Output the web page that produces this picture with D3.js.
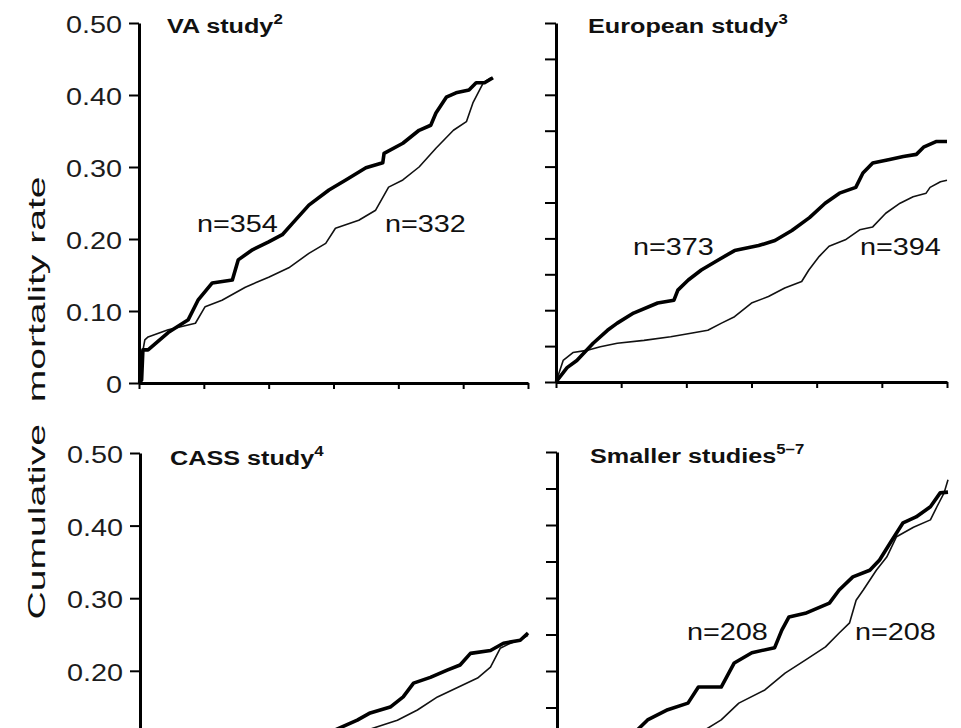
<!DOCTYPE html>
<html>
<head>
<meta charset="utf-8">
<script src="https://cdn.jsdelivr.net/npm/d3@7/dist/d3.min.js"></script>
<style>
  body { margin: 0; background: #fff; }
  svg { display: block; }
  text { font-family: "Liberation Sans", Arial, sans-serif; fill: #111; }
</style>
</head>
<body>
<svg id="chart" width="961" height="728"></svg>
<script>
// years of follow-up, cumulative mortality ([year, rate])
const vaMedical = [[0,0],[0.04,0.004],[0.06,0.046],[0.14,0.046],[0.45,0.07],[0.76,0.088],[0.91,0.115],
  [1.13,0.139],[1.44,0.143],[1.53,0.171],[1.75,0.185],[2.0,0.196],[2.21,0.206],[2.37,0.222],[2.62,0.247],
  [2.93,0.268],[3.19,0.282],[3.5,0.299],[3.76,0.306],[3.78,0.319],[4.07,0.333],[4.32,0.351],[4.5,0.358],
  [4.58,0.375],[4.74,0.397],[4.89,0.403],[5.09,0.407],[5.2,0.417],[5.33,0.417],[5.46,0.424]];
const vaSurgical = [[0,0],[0.03,0.03],[0.09,0.06],[0.14,0.064],[0.45,0.074],[0.87,0.083],[1.02,0.106],
  [1.28,0.115],[1.64,0.133],[2.0,0.147],[2.31,0.16],[2.62,0.18],[2.88,0.194],[3.03,0.215],[3.39,0.226],
  [3.65,0.24],[3.85,0.272],[4.07,0.282],[4.32,0.3],[4.58,0.326],[4.85,0.351],[5.05,0.363],[5.15,0.389],
  [5.31,0.417],[5.43,0.424]];

const euroMedical = [[0,0],[0.17,0.02],[0.32,0.03],[0.57,0.054],[0.79,0.072],[0.94,0.082],[1.19,0.096],
  [1.56,0.11],[1.81,0.114],[1.87,0.128],[2.03,0.142],[2.23,0.156],[2.49,0.17],[2.74,0.183],[3.11,0.19],
  [3.36,0.197],[3.62,0.211],[3.89,0.229],[4.13,0.249],[4.35,0.263],[4.6,0.271],[4.71,0.291],[4.86,0.305],
  [5.12,0.31],[5.33,0.314],[5.53,0.317],[5.64,0.327],[5.84,0.335],[6.0,0.335]];
const euroSurgical = [[0,0],[0.11,0.03],[0.26,0.041],[0.47,0.044],[0.68,0.049],[0.94,0.054],[1.35,0.058],
  [1.76,0.063],[2.07,0.068],[2.33,0.072],[2.54,0.082],[2.74,0.091],[3.0,0.11],[3.26,0.119],[3.51,0.131],
  [3.77,0.14],[3.88,0.156],[4.04,0.175],[4.19,0.189],[4.44,0.198],[4.66,0.212],[4.86,0.216],[5.06,0.235],
  [5.28,0.249],[5.48,0.258],[5.68,0.263],[5.74,0.271],[5.9,0.279],[6.0,0.281]];

const cassMedical = [[0,0],[0.5,0.03],[1.2,0.05],[2.0,0.08],[2.8,0.11],[3.36,0.132],[3.56,0.142],
  [3.87,0.15],[4.07,0.164],[4.23,0.183],[4.49,0.191],[4.75,0.201],[4.95,0.208],[5.11,0.224],[5.42,0.228],
  [5.62,0.238],[5.88,0.242],[6.0,0.252]];
const cassSurgical = [[0,0],[0.6,0.03],[1.5,0.06],[2.5,0.09],[3.4,0.115],[3.98,0.132],[4.29,0.146],
  [4.6,0.164],[4.91,0.177],[5.22,0.19],[5.42,0.205],[5.57,0.231],[5.73,0.238],[5.93,0.245],[6.0,0.249]];

const smallMedical = [[0,0],[0.4,0.04],[0.9,0.09],[1.39,0.133],[1.7,0.147],[2.01,0.156],[2.17,0.178],
  [2.52,0.178],[2.72,0.211],[2.99,0.225],[3.34,0.232],[3.45,0.256],[3.56,0.274],[3.81,0.279],[4.18,0.293],
  [4.33,0.311],[4.54,0.329],[4.8,0.338],[4.95,0.352],[5.11,0.375],[5.31,0.403],[5.51,0.411],[5.73,0.425],
  [5.88,0.444],[6.0,0.445]];
const smallSurgical = [[0,0],[0.7,0.04],[1.5,0.08],[2.1,0.11],[2.52,0.133],[2.79,0.156],[3.19,0.174],
  [3.5,0.197],[3.81,0.215],[4.12,0.233],[4.33,0.252],[4.49,0.266],[4.59,0.297],[4.7,0.311],[4.9,0.338],
  [5.06,0.356],[5.21,0.384],[5.47,0.397],[5.73,0.407],[5.83,0.425],[5.94,0.444],[6.0,0.462]];

const yearTicks = [0, 1, 2, 3, 4, 5, 6];
const majorTicks = [0, 0.1, 0.2, 0.3, 0.4, 0.5];
const minorTicks = [0, 0.05, 0.1, 0.15, 0.2, 0.25, 0.3, 0.35, 0.4, 0.45, 0.5];
const studyTitles = ["VA study", "European study", "CASS study", "Smaller studies"];
const studyRefs = ["2", "3", "4", "5\u20137"];
const sizeLabels = [["n=354", "n=332"], ["n=373", "n=394"], [null, null], ["n=208", "n=208"]];

const svg = d3.select("#chart");
const H = +svg.attr("height");
const SX = 1.2; // the scan is wide, stretch the type to match

function wideText(g, x, y, str, size, weight, anchor) {
  return g.append("text")
    .attr("transform", `translate(${x},${y}) scale(${SX},1)`)
    .attr("font-size", size)
    .attr("font-weight", weight || "normal")
    .attr("text-anchor", anchor || "start")
    .text(str);
}

// layout of the four panels (bottom row is cut off by the page edge, like the scan)
const panels = [
  {x0: 139, x1: 528, yTop: 23, yBot: 383, labelled: true, titleX: 167, titleY: 33,
   series: [vaMedical, vaSurgical], nPos: [[197, 232], [385, 232]]},
  {x0: 556, x1: 947, yTop: 23, yBot: 382, labelled: false, titleX: 588, titleY: 33,
   series: [euroMedical, euroSurgical], nPos: [[633, 255], [860, 255]]},
  {x0: 140, x1: 528, yTop: 453, yBot: 816, labelled: true, titleX: 170, titleY: 465,
   series: [cassMedical, cassSurgical], nPos: [null, null]},
  {x0: 557, x1: 948, yTop: 452, yBot: 817, labelled: false, titleX: 590, titleY: 463,
   series: [smallMedical, smallSurgical], nPos: [[687, 640], [855, 640]]}
];

panels.forEach((p, i) => {
  const g = svg.append("g").attr("class", "panel");
  const x = d3.scaleLinear().domain([0, 6]).range([p.x0, p.x1]);
  const y = d3.scaleLinear().domain([0, 0.5]).range([p.yBot, p.yTop]);

  // curves: thin (surgical) under thick (medical)
  const line = d3.line().x(d => x(d[0])).y(d => y(d[1])).curve(d3.curveLinear);
  g.append("path").datum(p.series[1])
    .attr("d", line).attr("fill", "none").attr("stroke", "#111")
    .attr("stroke-width", 1.6).attr("stroke-linejoin", "round");
  g.append("path").datum(p.series[0])
    .attr("d", line).attr("fill", "none").attr("stroke", "#000")
    .attr("stroke-width", 3.6).attr("stroke-linejoin", "round");

  // axes
  const yAxis = d3.axisLeft(y)
    .tickValues(p.labelled ? majorTicks : minorTicks)
    .tickSize(p.labelled ? 10 : 11).tickSizeOuter(0).tickFormat("");
  const ya = g.append("g").attr("transform", `translate(${p.x0},0)`).call(yAxis);
  const xAxis = d3.axisBottom(x).tickValues(yearTicks).tickSize(6).tickSizeOuter(0).tickFormat("");
  const xa = g.append("g").attr("transform", `translate(0,${p.yBot})`).call(xAxis);
  [ya, xa].forEach(a => {
    a.select(".domain").attr("stroke", "#000").attr("stroke-width", 3);
    a.selectAll(".tick line").attr("stroke", "#000").attr("stroke-width", 2);
  });

  if (p.labelled) {
    majorTicks.filter(v => y(v) + 10 < H).forEach(v => {
      wideText(g, p.x0 - 17, y(v) + 10, v === 0 ? "0" : d3.format(".2f")(v), 24, "normal", "end")
        .style("fill", "#1c1c1c");
    });
  }

  // title with reference superscript
  const t = wideText(g, p.titleX, p.titleY, studyTitles[i], 21, "bold");
  t.append("tspan").attr("dy", -9).attr("font-size", 14).text(studyRefs[i]);

  sizeLabels[i].forEach((lab, k) => {
    if (lab && p.nPos[k]) wideText(g, p.nPos[k][0], p.nPos[k][1], lab, 24);
  });
});

svg.append("text")
  .attr("transform", "translate(45,398) rotate(-90)")
  .attr("text-anchor", "middle")
  .attr("font-size", 24)
  .attr("textLength", 443)
  .attr("lengthAdjust", "spacingAndGlyphs")
  .style("white-space", "pre")
  .text("Cumulative  mortality rate");
</script>
</body>
</html>
